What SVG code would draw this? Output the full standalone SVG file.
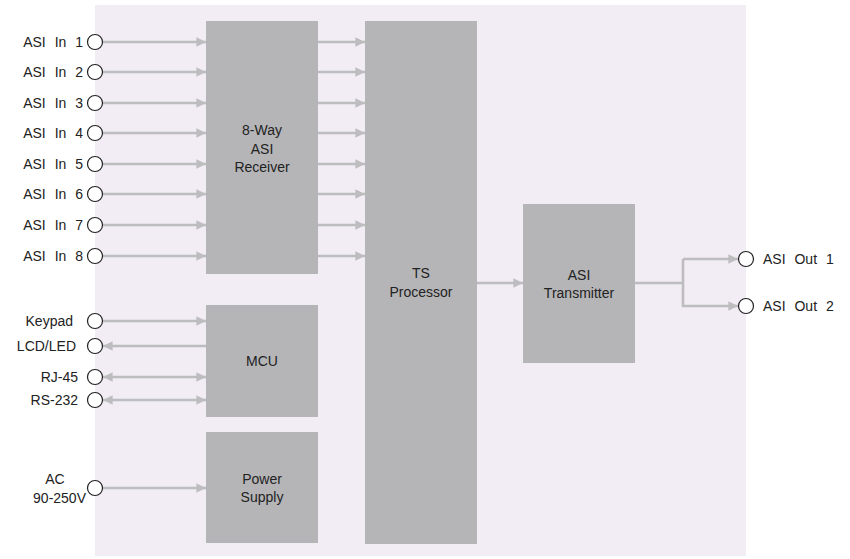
<svg xmlns="http://www.w3.org/2000/svg" width="850" height="559" viewBox="0 0 850 559">
<defs>
<style>
.box{fill:#b5b5b7}
.ln{stroke:#bdbdbf;stroke-width:2.6;fill:none}
.t{font-family:"Liberation Sans",Arial,sans-serif;font-size:14px;fill:#222}
.w{word-spacing:5px}
.c{fill:#fff;stroke:#222;stroke-width:1.2}
</style>
<marker id="ah" viewBox="0 0 10 10" refX="10" refY="5" markerWidth="4" markerHeight="3.7" orient="auto" markerUnits="strokeWidth">
<path d="M0,0 L10,5 L0,10 z" fill="#bdbdbf"/>
</marker>
<marker id="as" viewBox="0 0 10 10" refX="0" refY="5" markerWidth="4" markerHeight="3.7" orient="auto" markerUnits="strokeWidth">
<path d="M10,0 L0,5 L10,10 z" fill="#bdbdbf"/>
</marker>
</defs>
<rect x="95" y="5" width="651" height="551" fill="#f2ecf4"/>
<g id="connectors">
<line class="ln" x1="103" y1="42" x2="206" y2="42" marker-end="url(#ah)"/>
<line class="ln" x1="103" y1="72" x2="206" y2="72" marker-end="url(#ah)"/>
<line class="ln" x1="103" y1="103" x2="206" y2="103" marker-end="url(#ah)"/>
<line class="ln" x1="103" y1="133" x2="206" y2="133" marker-end="url(#ah)"/>
<line class="ln" x1="103" y1="164" x2="206" y2="164" marker-end="url(#ah)"/>
<line class="ln" x1="103" y1="194" x2="206" y2="194" marker-end="url(#ah)"/>
<line class="ln" x1="103" y1="225" x2="206" y2="225" marker-end="url(#ah)"/>
<line class="ln" x1="103" y1="256" x2="206" y2="256" marker-end="url(#ah)"/>
<line class="ln" x1="318" y1="42" x2="365" y2="42" marker-end="url(#ah)"/>
<line class="ln" x1="318" y1="72" x2="365" y2="72" marker-end="url(#ah)"/>
<line class="ln" x1="318" y1="103" x2="365" y2="103" marker-end="url(#ah)"/>
<line class="ln" x1="318" y1="133" x2="365" y2="133" marker-end="url(#ah)"/>
<line class="ln" x1="318" y1="164" x2="365" y2="164" marker-end="url(#ah)"/>
<line class="ln" x1="318" y1="194" x2="365" y2="194" marker-end="url(#ah)"/>
<line class="ln" x1="318" y1="225" x2="365" y2="225" marker-end="url(#ah)"/>
<line class="ln" x1="318" y1="256" x2="365" y2="256" marker-end="url(#ah)"/>
<line class="ln" x1="103" y1="321" x2="206" y2="321" marker-end="url(#ah)"/>
<line class="ln" x1="206" y1="346" x2="103" y2="346" marker-end="url(#ah)"/>
<line class="ln" x1="103" y1="377" x2="206" y2="377" marker-start="url(#as)" marker-end="url(#ah)"/>
<line class="ln" x1="103" y1="400" x2="206" y2="400" marker-start="url(#as)" marker-end="url(#ah)"/>
<line class="ln" x1="103" y1="488" x2="206" y2="488" marker-end="url(#ah)"/>
<line class="ln" x1="477" y1="283" x2="523" y2="283" marker-end="url(#ah)"/>
<polyline class="ln" points="635,283 683,283"/>
<polyline class="ln" points="683,259 683,306 738,306" marker-end="url(#ah)"/>
<line class="ln" x1="683" y1="259" x2="738" y2="259" marker-end="url(#ah)"/>
</g>
<g id="receiver"><rect class="box" x="206" y="21" width="112" height="253"/>
<text class="t" text-anchor="middle" x="262" y="135">8-Way</text>
<text class="t" text-anchor="middle" x="262" y="154">ASI</text>
<text class="t" text-anchor="middle" x="262" y="172">Receiver</text></g>
<g id="ts"><rect class="box" x="365" y="21" width="112" height="523"/>
<text class="t" text-anchor="middle" x="421" y="278">TS</text>
<text class="t" text-anchor="middle" x="421" y="297">Processor</text></g>
<g id="mcu"><rect class="box" x="206" y="305" width="112" height="112"/>
<text class="t" text-anchor="middle" x="262" y="366">MCU</text></g>
<g id="power"><rect class="box" x="206" y="432" width="112" height="111"/>
<text class="t" text-anchor="middle" x="262" y="484">Power</text>
<text class="t" text-anchor="middle" x="262" y="502">Supply</text></g>
<g id="tx"><rect class="box" x="523" y="204" width="112" height="159"/>
<text class="t" text-anchor="middle" x="579" y="280">ASI</text>
<text class="t" text-anchor="middle" x="579" y="298">Transmitter</text></g>
<g id="inputs">
<circle class="c" cx="95" cy="42" r="7.5"/><text class="t w" text-anchor="end" x="83" y="47">ASI In 1</text>
<circle class="c" cx="95" cy="72" r="7.5"/><text class="t w" text-anchor="end" x="83" y="77">ASI In 2</text>
<circle class="c" cx="95" cy="103" r="7.5"/><text class="t w" text-anchor="end" x="83" y="108">ASI In 3</text>
<circle class="c" cx="95" cy="133" r="7.5"/><text class="t w" text-anchor="end" x="83" y="138">ASI In 4</text>
<circle class="c" cx="95" cy="164" r="7.5"/><text class="t w" text-anchor="end" x="83" y="169">ASI In 5</text>
<circle class="c" cx="95" cy="194" r="7.5"/><text class="t w" text-anchor="end" x="83" y="199">ASI In 6</text>
<circle class="c" cx="95" cy="225" r="7.5"/><text class="t w" text-anchor="end" x="83" y="230">ASI In 7</text>
<circle class="c" cx="95" cy="256" r="7.5"/><text class="t w" text-anchor="end" x="83" y="261">ASI In 8</text>
<circle class="c" cx="95" cy="321" r="7.5"/><text class="t" text-anchor="end" x="73" y="326">Keypad</text>
<circle class="c" cx="95" cy="346" r="7.5"/><text class="t" text-anchor="end" x="76" y="351">LCD/LED</text>
<circle class="c" cx="95" cy="377" r="7.5"/><text class="t" text-anchor="end" x="78" y="382">RJ-45</text>
<circle class="c" cx="95" cy="400" r="7.5"/><text class="t" text-anchor="end" x="78" y="405">RS-232</text>
<circle class="c" cx="95" cy="488" r="7.5"/><text class="t" text-anchor="middle" x="55" y="484">AC</text><text class="t" text-anchor="end" x="86" y="503">90-250V</text>
</g>
<g id="outputs">
<circle class="c" cx="746" cy="259" r="7.5"/><text class="t w" x="763" y="264">ASI Out 1</text>
<circle class="c" cx="746" cy="306" r="7.5"/><text class="t w" x="763" y="311">ASI Out 2</text>
</g>
</svg>
